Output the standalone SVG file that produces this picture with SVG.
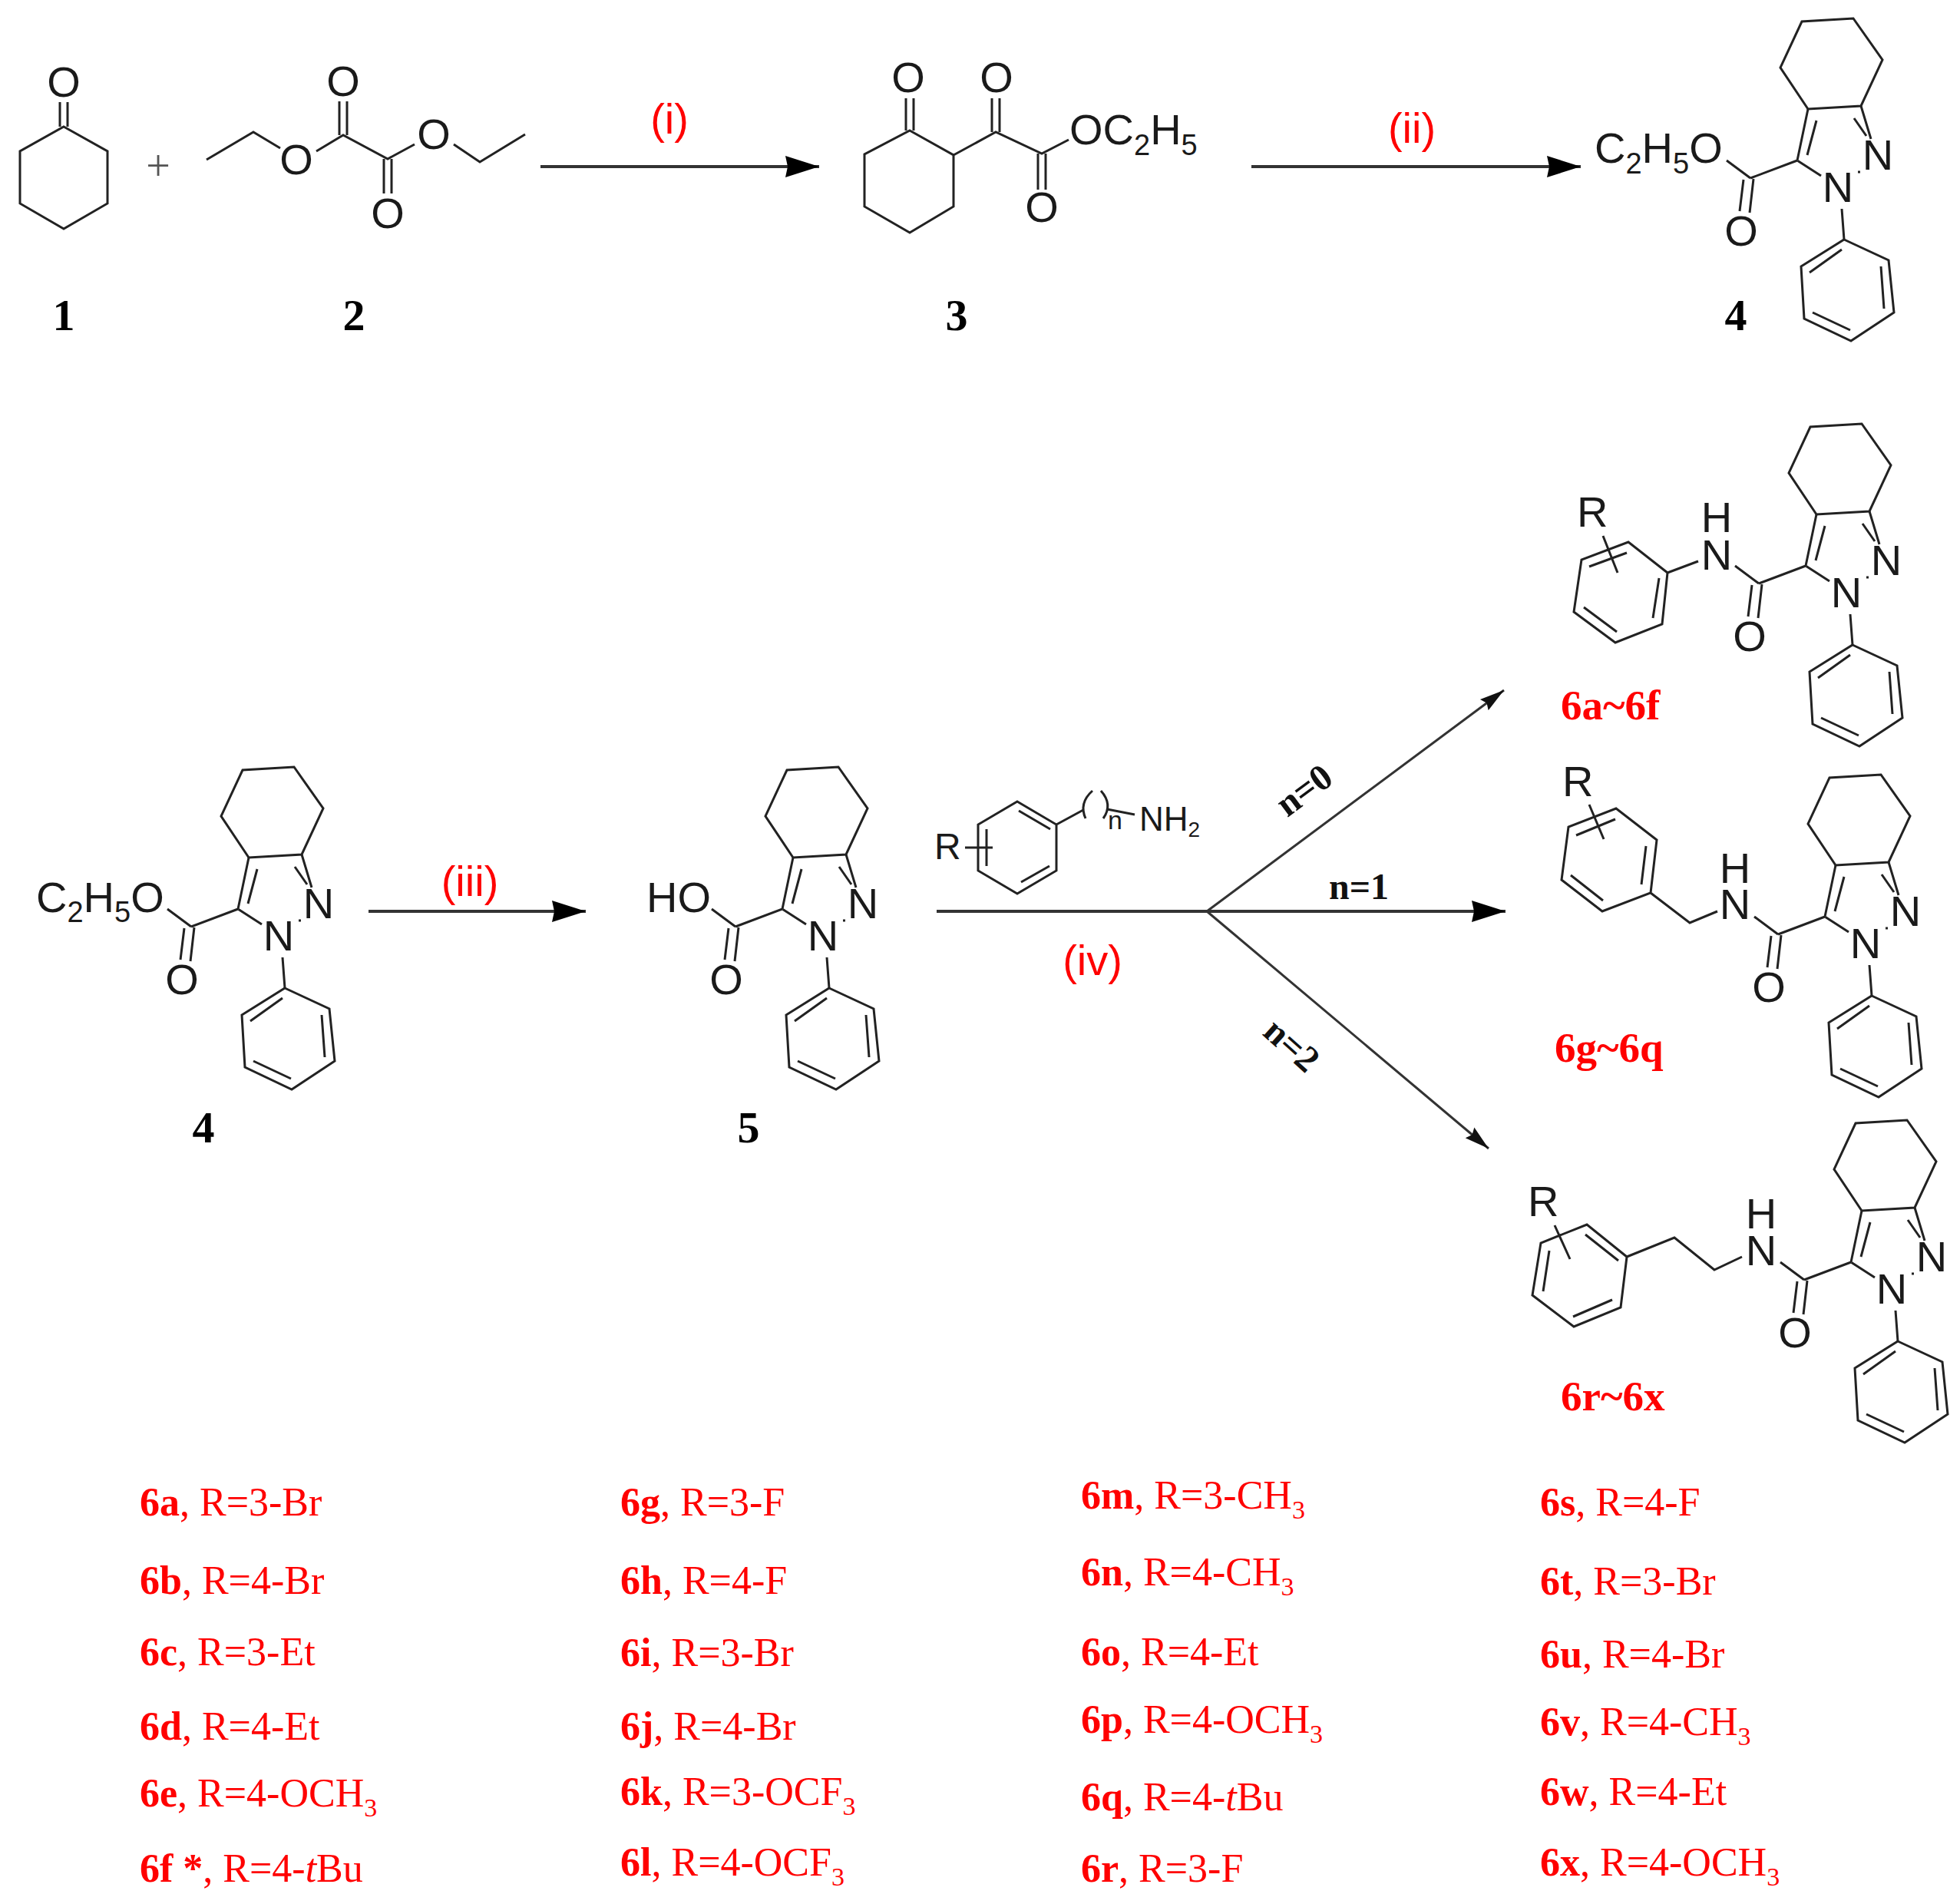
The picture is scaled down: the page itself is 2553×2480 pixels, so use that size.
<svg xmlns="http://www.w3.org/2000/svg" width="2553" height="2480" viewBox="0 0 2553 2480">
<style>
.b{fill:none;stroke:#222;stroke-width:3;stroke-linejoin:miter;stroke-linecap:butt}
.a{font-family:"Liberation Sans",Arial,sans-serif;font-size:56px;fill:#1a1a1a}
.m{text-anchor:middle}
.s{font-size:38px}
.id{font-family:"Liberation Serif","Times New Roman",serif;font-weight:bold;font-size:58px;fill:#000;text-anchor:middle}
.cond{font-family:"Liberation Serif","Times New Roman",serif;font-weight:bold;font-size:48px;fill:#111}
.step{font-family:"Liberation Sans",Arial,sans-serif;font-size:56px;fill:#f00;text-anchor:middle}
.nm{font-family:"Liberation Serif","Times New Roman",serif;font-weight:bold;font-size:55px;fill:#f00}
.r{font-family:"Liberation Serif","Times New Roman",serif;font-size:52px;fill:#f00}
.r tspan.k{font-weight:bold}
.r tspan.i{font-style:italic}
.r tspan.u{font-size:34px}
.main{fill:none;stroke:#333;stroke-width:4}
.thin{fill:none;stroke:#333;stroke-width:3}
</style>
<defs>
<marker id="head" markerUnits="userSpaceOnUse" markerWidth="46" markerHeight="30" refX="44" refY="15" orient="auto" viewBox="0 0 46 30"><path d="M0,1 L44,15 L0,29 L3,15 z" fill="#000"/></marker>
<marker id="headS" markerUnits="userSpaceOnUse" markerWidth="34" markerHeight="22" refX="32" refY="11" orient="auto" viewBox="0 0 34 22"><path d="M0,2 L32,11 L0,20 L4,11 z" fill="#111"/></marker>
<g id="core">
<path class="b" d="M324,1117L288,1063L316,1003L383,999L421,1053L393,1113Z"/>
<path class="b" d="M324,1117L310,1184M335,1132L323,1177M393,1113L406,1156M384,1129L400,1152M310,1184L341,1204M389,1199L392,1199M310,1184L249,1207M218,1184L249,1207M240,1209L235,1250M253,1208L248,1252M368,1247L371,1287"/>
<path class="b" d="M371,1287L429,1314L436,1382L380,1419L319,1390L315,1322Z"/>
<path class="b" d="M368,1300L326,1330M419,1322L423,1377M330,1382L379,1405"/>
</g>
</defs>

<g id="connectors">
<line class="main" x1="704" y1="217" x2="1067" y2="217" marker-end="url(#head)"/>
<line class="main" x1="1630" y1="217" x2="2059" y2="217" marker-end="url(#head)"/>
<line class="main" x1="480" y1="1187" x2="763" y2="1187" marker-end="url(#head)"/>
<line class="main" x1="1220" y1="1187" x2="1572" y2="1187"/>
<line class="main" x1="1572" y1="1187" x2="1961" y2="1187" marker-end="url(#head)"/>
<line class="thin" x1="1572" y1="1187" x2="1959" y2="899" marker-end="url(#headS)"/>
<line class="thin" x1="1572" y1="1187" x2="1939" y2="1496" marker-end="url(#headS)"/>
</g>

<g id="compound-1">
<path class="b" d="M83,165L140,197L140,265L83,298L26,265L26,197ZM78,133L78,165M88,133L88,165"/>
<text class="a m" x="83" y="126">O</text>
<text class="id" x="83" y="430">1</text>
</g>
<g id="plus"><text x="206" y="235" text-anchor="middle" font-family="Liberation Serif, serif" font-size="56" fill="#555">+</text></g>
<g id="compound-2">
<path class="b" d="M269,208L330,172L365,193M412,197L447,176L505,207L540,188M591,188L625,211L684,175M442,132L442,176M452,132L452,176M500,207L500,252M510,207L510,252"/>
<text class="a m" x="447" y="125">O</text>
<text class="a m" x="386" y="227">O</text>
<text class="a m" x="565" y="194">O</text>
<text class="a m" x="505" y="297">O</text>
<text class="id" x="461" y="430">2</text>
</g>
<g id="step-i"><text class="step" x="872" y="174">(i)</text></g>
<g id="compound-3">
<path class="b" d="M1185,170L1242,202L1242,269L1185,303L1126,269L1126,201ZM1180,128L1180,170M1190,128L1190,170M1242,202L1297,172L1357,200L1392,182M1292,128L1292,172M1302,128L1302,172M1352,200L1352,247M1362,200L1362,247"/>
<text class="a m" x="1183" y="120">O</text>
<text class="a m" x="1298" y="120">O</text>
<text class="a m" x="1357" y="289">O</text>
<text class="a" x="1393" y="188">OC<tspan class="s" dy="14">2</tspan><tspan dy="-14">H</tspan><tspan class="s" dy="14">5</tspan></text>
<text class="id" x="1246" y="430">3</text>
</g>
<g id="step-ii"><text class="step" x="1839" y="186">(ii)</text></g>
<g id="compound-4-top">
<use href="#core" transform="translate(2031,-975)"/>
<text class="a" x="2077" y="212">C<tspan class="s" dy="14">2</tspan><tspan dy="-14">H</tspan><tspan class="s" dy="14">5</tspan><tspan dy="-14">O</tspan></text>
<text class="a m" x="2446" y="221">N</text>
<text class="a m" x="2394" y="263">N</text>
<text class="a m" x="2268" y="320">O</text>
<text class="id" x="2261" y="430">4</text>
</g>

<g id="compound-4">
<use href="#core"/>
<text class="a" x="47" y="1188">C<tspan class="s" dy="13">2</tspan><tspan dy="-13">H</tspan><tspan class="s" dy="13">5</tspan><tspan dy="-13">O</tspan></text>
<text class="a m" x="415" y="1196">N</text>
<text class="a m" x="363" y="1238">N</text>
<text class="a m" x="237" y="1295">O</text>
<text class="id" x="265" y="1488">4</text>
</g>
<g id="step-iii"><text class="step" x="612" y="1167">(iii)</text></g>
<g id="compound-5">
<use href="#core" transform="translate(709,0)"/>
<text class="a" x="842" y="1188">HO</text>
<text class="a m" x="1124" y="1196">N</text>
<text class="a m" x="1072" y="1238">N</text>
<text class="a m" x="946" y="1295">O</text>
<text class="id" x="975" y="1488">5</text>
</g>

<g id="amine">
<path class="b" d="M1325,1044L1376,1074L1376,1134L1325,1164L1274,1134L1274,1074ZM1327,1056L1368,1080M1330,1149L1367,1128M1285,1080L1285,1128M1257,1104L1293,1104M1376,1074L1411,1055M1442,1054L1478,1061"/>
<path class="b" d="M1423,1030Q1405,1046 1414,1066M1434,1030Q1450,1048 1437,1066"/>
<text x="1217" y="1119" font-family="Liberation Sans, sans-serif" font-size="48" fill="#1a1a1a">R</text>
<text x="1443" y="1080" font-family="Liberation Sans, sans-serif" font-size="34" fill="#1a1a1a">n</text>
<text x="1484" y="1082" font-family="Liberation Sans, sans-serif" font-size="44" fill="#1a1a1a">NH<tspan font-size="28" dy="8">2</tspan></text>
</g>
<g id="step-iv"><text class="step" x="1423" y="1270">(iv)</text></g>
<g id="cond-n0"><text class="cond" text-anchor="middle" transform="translate(1708,1042) rotate(-36.6)">n=0</text></g>
<g id="cond-n1"><text class="cond" x="1731" y="1171">n=1</text></g>
<g id="cond-n2"><text class="cond" text-anchor="middle" transform="translate(1672,1373) rotate(42)">n=2</text></g>

<g id="compound-6a-6f">
<use href="#core" transform="translate(2042,-447)"/>
<path class="b" d="M2172,746L2165,813L2104,837L2050,797L2060,729L2121,706ZM2161,753L2153,805M2063,791L2106,823M2070,738L2119,720M2088,698L2107,746M2212,731L2172,746"/>
<text class="a" x="2054" y="686">R</text>
<text class="a m" x="2236" y="693">H<tspan x="2236" dy="49">N</tspan></text>
<text class="a m" x="2457" y="749">N</text>
<text class="a m" x="2405" y="791">N</text>
<text class="a m" x="2279" y="848">O</text>
<text class="nm" x="2033" y="937">6a~6f</text>
</g>
<g id="compound-6g-6q">
<use href="#core" transform="translate(2067,10)"/>
<path class="b" d="M2150,1163L2158,1094L2105,1053L2043,1077L2034,1146L2087,1187ZM2144,1102L2138,1152M2046,1140L2088,1173M2053,1088L2104,1067M2070,1048L2089,1093M2237,1187L2201,1202L2150,1163"/>
<text class="a" x="2035" y="1037">R</text>
<text class="a m" x="2260" y="1150">H<tspan x="2260" dy="47">N</tspan></text>
<text class="a m" x="2482" y="1206">N</text>
<text class="a m" x="2430" y="1248">N</text>
<text class="a m" x="2304" y="1305">O</text>
<text class="nm" x="2025" y="1383">6g~6q</text>
</g>
<g id="compound-6r-6x">
<use href="#core" transform="translate(2101,460)"/>
<path class="b" d="M2119,1637L2111,1703L2050,1728L1996,1687L2007,1619L2067,1595ZM2065,1608L2108,1642M2018,1629L2010,1682M2049,1715L2100,1693M2025,1596L2045,1640M2269,1637L2233,1654L2181,1612L2119,1637"/>
<text class="a" x="1990" y="1584">R</text>
<text class="a m" x="2294" y="1600">H<tspan x="2294" dy="48">N</tspan></text>
<text class="a m" x="2516" y="1656">N</text>
<text class="a m" x="2464" y="1698">N</text>
<text class="a m" x="2338" y="1755">O</text>
<text class="nm" x="2033" y="1837">6r~6x</text>
</g>

<g id="substituents">
<text class="r" x="182" y="1974"><tspan class="k">6a</tspan>, R=3-Br</text>
<text class="r" x="182" y="2076"><tspan class="k">6b</tspan>, R=4-Br</text>
<text class="r" x="182" y="2169"><tspan class="k">6c</tspan>, R=3-Et</text>
<text class="r" x="182" y="2266"><tspan class="k">6d</tspan>, R=4-Et</text>
<text class="r" x="182" y="2353"><tspan class="k">6e</tspan>, R=4-OCH<tspan class="u" dy="13">3</tspan></text>
<text class="r" x="182" y="2451"><tspan class="k">6f *</tspan>, R=4-<tspan class="i">t</tspan>Bu</text>
<text class="r" x="808" y="1974"><tspan class="k">6g</tspan>, R=3-F</text>
<text class="r" x="808" y="2076"><tspan class="k">6h</tspan>, R=4-F</text>
<text class="r" x="808" y="2170"><tspan class="k">6i</tspan>, R=3-Br</text>
<text class="r" x="808" y="2266"><tspan class="k">6j</tspan>, R=4-Br</text>
<text class="r" x="808" y="2351"><tspan class="k">6k</tspan>, R=3-OCF<tspan class="u" dy="13">3</tspan></text>
<text class="r" x="808" y="2443"><tspan class="k">6l</tspan>, R=4-OCF<tspan class="u" dy="13">3</tspan></text>
<text class="r" x="1408" y="1965"><tspan class="k">6m</tspan>, R=3-CH<tspan class="u" dy="13">3</tspan></text>
<text class="r" x="1408" y="2065"><tspan class="k">6n</tspan>, R=4-CH<tspan class="u" dy="13">3</tspan></text>
<text class="r" x="1408" y="2169"><tspan class="k">6o</tspan>, R=4-Et</text>
<text class="r" x="1408" y="2257"><tspan class="k">6p</tspan>, R=4-OCH<tspan class="u" dy="13">3</tspan></text>
<text class="r" x="1408" y="2358"><tspan class="k">6q</tspan>, R=4-<tspan class="i">t</tspan>Bu</text>
<text class="r" x="1408" y="2451"><tspan class="k">6r</tspan>, R=3-F</text>
<text class="r" x="2006" y="1974"><tspan class="k">6s</tspan>, R=4-F</text>
<text class="r" x="2006" y="2077"><tspan class="k">6t</tspan>, R=3-Br</text>
<text class="r" x="2006" y="2172"><tspan class="k">6u</tspan>, R=4-Br</text>
<text class="r" x="2006" y="2260"><tspan class="k">6v</tspan>, R=4-CH<tspan class="u" dy="13">3</tspan></text>
<text class="r" x="2006" y="2351"><tspan class="k">6w</tspan>, R=4-Et</text>
<text class="r" x="2006" y="2443"><tspan class="k">6x</tspan>, R=4-OCH<tspan class="u" dy="13">3</tspan></text>
</g>
</svg>
